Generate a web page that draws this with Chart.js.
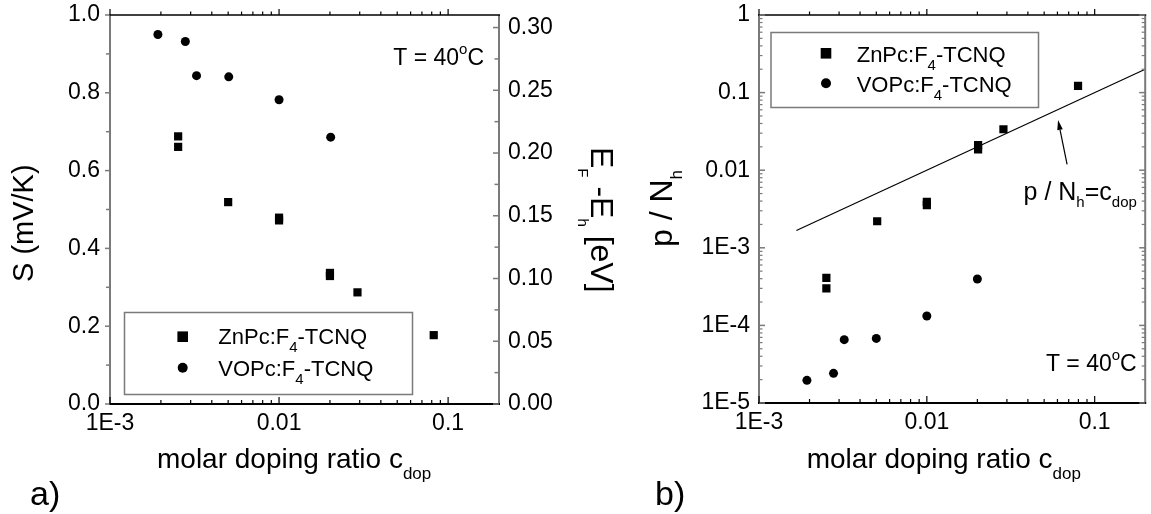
<!DOCTYPE html>
<html><head><meta charset="utf-8">
<script src="https://cdn.jsdelivr.net/npm/chart.js@4.4.1/dist/chart.umd.min.js"></script>
<style>
html,body{margin:0;padding:0;background:#fff;width:1151px;height:514px;overflow:hidden}
#a{position:absolute;left:0;top:0}
#b{position:absolute;left:620px;top:0}
</style></head><body>
<canvas id="a" width="640" height="514"></canvas>
<canvas id="b" width="531" height="514"></canvas>
<script>
// ---------- data: panel a ----------
const aZnX = [0.00253, 0.00253, 0.0050, 0.0100, 0.0100, 0.0200, 0.0200, 0.0291, 0.0822];
const aZnS = [0.688, 0.661, 0.519, 0.479, 0.472, 0.337, 0.329, 0.287, 0.177];
const aVoX = [0.00192, 0.00279, 0.00325, 0.00504, 0.0100, 0.0202];
const aVoS = [0.950, 0.932, 0.844, 0.841, 0.782, 0.686];
// ---------- data: panel b ----------
const bZnX = [0.00252, 0.00252, 0.00506, 0.0100, 0.0100, 0.0202, 0.0202, 0.0286, 0.0796];
const bZnP = [4.1e-4, 3.0e-4, 2.2e-3, 3.9e-3, 3.55e-3, 2.1e-2, 1.85e-2, 3.37e-2, 0.122];
const bVoX = [0.00193, 0.00278, 0.00322, 0.0050, 0.0100, 0.0200];
const bVoP = [1.96e-5, 2.41e-5, 6.55e-5, 6.8e-5, 1.32e-4, 3.96e-4];
const lineX = [0.00167, 0.2];
const lineY = [0.00167, 0.2];
// ---------- ticks ----------
const xTickValues = [0.001, 0.01, 0.1];
const xTickLabels = ['1E-3', '0.01', '0.1'];
const aYTickValues = [0, 0.2, 0.4, 0.6, 0.8, 1.0];
const aYTickLabels = ['0.0', '0.2', '0.4', '0.6', '0.8', '1.0'];
const aY2TickValues = [0, 0.05, 0.10, 0.15, 0.20, 0.25, 0.30];
const aY2TickLabels = ['0.00', '0.05', '0.10', '0.15', '0.20', '0.25', '0.30'];
const bYTickValues = [1e-5, 1e-4, 1e-3, 0.01, 0.1, 1];
const bYTickLabels = ['1E-5', '1E-4', '1E-3', '0.01', '0.1', '1'];
// ---------- text ----------
const seriesNames = [
  [{t:'ZnPc:F'},{t:'4',sub:true},{t:'-TCNQ'}],
  [{t:'VOPc:F'},{t:'4',sub:true},{t:'-TCNQ'}]
];
const tempLabel = [{t:'T = 40'},{t:'o',sup:true},{t:'C'}];
const xTitle = [{t:'molar doping ratio c'},{t:'dop',sub:true}];
const aYTitle = [{t:'S (mV/K)'}];
const aY2Title = [{t:'E'},{t:'F',sub:true},{t:' -E'},{t:'h',sub:true},{t:' [eV]'}];
const bYTitle = [{t:'p / N'},{t:'h',sub:true}];
const annText = [{t:'p / N'},{t:'h',sub:true},{t:'=c'},{t:'dop',sub:true}];
const annAnchor = {x:0.0377, y:0.00413};
const arrowTip = {x:0.0605, y:0.0444};
const arrowTail = {x:0.0685, y:0.0119};

const FF = '"Liberation Sans", Arial, Helvetica, sans-serif';
const GRAY = '#7a7a7a';
const OFFB = 620; // left of canvas b on the page
Chart.defaults.font.family = FF;
Chart.defaults.font.size = 23;
Chart.defaults.color = '#000';

function richWidth(ctx, segs, o){
  let w = 0;
  for (const s of segs){ ctx.font = ((s.sub||s.sup)?o.sub:o.size)+'px '+FF; w += ctx.measureText(s.t).width; }
  return w;
}
function drawRich(ctx, x, y, segs, o){
  const w = richWidth(ctx, segs, o);
  let cx = o.align==='right' ? x-w : (o.align==='center' ? x-w/2 : x);
  ctx.textBaseline='alphabetic'; ctx.textAlign='left'; ctx.fillStyle='#000';
  for (const s of segs){
    const sz = (s.sub||s.sup)?o.sub:o.size;
    ctx.font = sz+'px '+FF;
    const dy = s.sub ? (o.subDy||0) : (s.sup ? (o.supDy||0) : 0);
    ctx.fillText(s.t, cx, y+dy);
    cx += ctx.measureText(s.t).width;
  }
}
function drawRotated(ctx, x, y, ang, segs, o){
  ctx.save(); ctx.translate(x,y); ctx.rotate(ang); drawRich(ctx,0,0,segs,o); ctx.restore();
}
function seg(ctx,x1,y1,x2,y2,c,w){
  ctx.strokeStyle=c; ctx.lineWidth=w; ctx.beginPath(); ctx.moveTo(x1,y1); ctx.lineTo(x2,y2); ctx.stroke();
}
function hTicks(ctx, scale, vals, yPos, len, c, w){
  for (const v of vals){ const p = scale.getPixelForValue(v); seg(ctx,p,yPos,p,yPos+len,c,w); }
}
function vTicks(ctx, scale, vals, xPos, len, c, w){
  for (const v of vals){ const p = scale.getPixelForValue(v); seg(ctx,xPos,p,xPos+len,p,c,w); }
}
function logMinors(min,max){
  const out=[];
  for (let e=Math.floor(Math.log10(min)); e<=Math.ceil(Math.log10(max)); e++)
    for (let m=2;m<=9;m++){ const v=m*Math.pow(10,e); if (v>min*1.0001 && v<max*0.9999) out.push(v); }
  return out;
}
function linMinors(vals, max){
  const out=[]; const step=vals[1]-vals[0];
  for (const v of vals){ const m=v+step/2; if (m<max) out.push(m); }
  return out;
}
function marker(ctx, style, x, y, r){
  ctx.fillStyle='#000';
  if (style==='rect'){ const s=r*Math.SQRT1_2; ctx.fillRect(x-s,y-s,2*s,2*s); }
  else { ctx.beginPath(); ctx.arc(x,y,r,0,Math.PI*2); ctx.fill(); }
}
function drawLegend(ctx, box, mx, tx, rows){
  ctx.strokeStyle=GRAY; ctx.lineWidth=1.5;
  ctx.strokeRect(box.x, box.y, box.w, box.h);
  rows.forEach((r,i)=>{
    marker(ctx, r.style, mx, r.my, r.style==='rect'?7.5:5);
    drawRich(ctx, tx, r.ty, seriesNames[i], {size:22, sub:15, subDy:8});
  });
}
function noPad(s){ s.paddingTop=0; s.paddingBottom=0; s.paddingLeft=0; s.paddingRight=0; }

function scatterDs(xs, ys, style, r){
  return { data: xs.map((x,i)=>({x, y:ys[i]})), pointStyle: style, pointRadius: r,
    pointHoverRadius: r, backgroundColor:'#000', borderWidth:0, showLine:false };
}

// ---------- panel a ----------
const decorA = {
  id:'decorA',
  afterDraw(chart){
    const {ctx, chartArea:ca, scales} = chart;
    const x=scales.x, y=scales.y, y2=scales.y2;
    ctx.save();
    seg(ctx, ca.left, ca.top, ca.left, ca.bottom, GRAY, 2);
    seg(ctx, ca.right, ca.top, ca.right, ca.bottom, GRAY, 2);
    seg(ctx, ca.left-1, ca.bottom, ca.right+1, ca.bottom, '#000', 2);
    seg(ctx, ca.left-1, ca.top, ca.right+1, ca.top, '#000', 1.5);
    vTicks(ctx, y, aYTickValues, ca.left, -5, GRAY, 1.5);
    vTicks(ctx, y, linMinors(aYTickValues, 1.0), ca.left, -4, GRAY, 1.5);
    vTicks(ctx, y2, aY2TickValues, ca.right, -6, GRAY, 1.5);
    vTicks(ctx, y2, linMinors(aY2TickValues, 0.31), ca.right, -4.5, GRAY, 1.5);
    const xm = logMinors(0.001, 0.2);
    hTicks(ctx, x, xTickValues, ca.bottom, -7, '#000', 1.2);
    hTicks(ctx, x, xm, ca.bottom, -4, '#000', 1.2);
    hTicks(ctx, x, xTickValues, ca.top, -6, '#000', 1.2);
    hTicks(ctx, x, xm, ca.top, -3.5, '#000', 1.2);
    drawRich(ctx, 157, 468, xTitle, {size:28, sub:17, subDy:11});
    drawRotated(ctx, 33, 282, -Math.PI/2, aYTitle, {size:29, sub:18});
    drawRotated(ctx, 591, 147, Math.PI/2, aY2Title, {size:32, sub:15, subDy:13});
    drawRich(ctx, 484, 65, tempLabel, {size:23, sub:15, supDy:-11, align:'right'});
    drawRich(ctx, 30, 505, [{t:'a)'}], {size:34, sub:20});
    drawLegend(ctx, {x:124.5, y:312.5, w:288, h:82}, 182.7, 218.3,
      [{style:'rect', my:336.7, ty:344}, {style:'circle', my:367.7, ty:376}]);
    ctx.restore();
  }
};

new Chart(document.getElementById('a'), {
  type:'scatter',
  data:{ datasets:[ scatterDs(aZnX, aZnS, 'rect', 5.8), scatterDs(aVoX, aVoS, 'circle', 4.5) ] },
  options:{
    responsive:false, animation:false, devicePixelRatio:1,
    layout:{ padding:{ top:15, left:0, right:0, bottom:0 } },
    plugins:{ legend:{display:false}, tooltip:{enabled:false} },
    scales:{
      x:{ type:'logarithmic', min:0.001, max:0.2, position:'bottom',
        grid:{display:false, drawTicks:false}, border:{display:false},
        afterBuildTicks:s=>{ s.ticks = xTickValues.map(v=>({value:v})); },
        ticks:{ padding:6, autoSkip:false, maxRotation:0, minRotation:0, callback:(v,i)=>xTickLabels[i] },
        afterFit:s=>{ s.height = 110; noPad(s); } },
      y:{ type:'linear', min:0, max:1, position:'left',
        grid:{display:false, drawTicks:false}, border:{display:false},
        afterBuildTicks:s=>{ s.ticks = aYTickValues.map(v=>({value:v})); },
        ticks:{ padding:10, autoSkip:false, callback:(v,i)=>aYTickLabels[i] },
        afterFit:s=>{ s.width = 110; noPad(s); } },
      y2:{ type:'linear', min:0, max:0.31, position:'right',
        grid:{display:false, drawTicks:false}, border:{display:false},
        afterBuildTicks:s=>{ s.ticks = aY2TickValues.map(v=>({value:v})); },
        ticks:{ padding:9, autoSkip:false, callback:(v,i)=>aY2TickLabels[i] },
        afterFit:s=>{ s.width = 141; noPad(s); } }
    }
  },
  plugins:[decorA]
});

// ---------- panel b ----------
const decorB = {
  id:'decorB',
  afterDraw(chart){
    const {ctx, chartArea:ca, scales} = chart;
    const x=scales.x, y=scales.y;
    ctx.save();
    seg(ctx, ca.left, ca.top, ca.left, ca.bottom, GRAY, 2);
    seg(ctx, ca.right, ca.top, ca.right, ca.bottom, GRAY, 2);
    seg(ctx, ca.left-1, ca.bottom, ca.right+1, ca.bottom, '#000', 2);
    seg(ctx, ca.left-1, ca.top, ca.right+1, ca.top, '#000', 1.5);
    const ym = logMinors(1e-5, 1);
    vTicks(ctx, y, bYTickValues, ca.left, 6, GRAY, 1.5);
    vTicks(ctx, y, ym, ca.left, 3.5, GRAY, 1.2);
    vTicks(ctx, y, bYTickValues, ca.right, -6, GRAY, 1.5);
    vTicks(ctx, y, ym, ca.right, -3.5, GRAY, 1.2);
    const xm = logMinors(0.001, 0.2);
    hTicks(ctx, x, xTickValues, ca.bottom, -7, '#000', 1.2);
    hTicks(ctx, x, xm, ca.bottom, -4, '#000', 1.2);
    hTicks(ctx, x, xTickValues, ca.top, -6, '#000', 1.2);
    hTicks(ctx, x, xm, ca.top, -3.5, '#000', 1.2);
    drawRich(ctx, 806.7-OFFB, 468, xTitle, {size:28, sub:17, subDy:11});
    drawRotated(ctx, 671.7-OFFB, 247, -Math.PI/2, bYTitle, {size:32, sub:17, subDy:10});
    drawRich(ctx, 1136.7-OFFB, 371, tempLabel, {size:23, sub:15, supDy:-11, align:'right'});
    drawRich(ctx, 655-OFFB, 505, [{t:'b)'}], {size:34, sub:20});
    drawLegend(ctx, {x:771-OFFB, y:32.5, w:267.5, h:75}, 826-OFFB, 856.7-OFFB,
      [{style:'rect', my:53.3, ty:62}, {style:'circle', my:83.3, ty:91.5}]);
    drawRich(ctx, x.getPixelForValue(annAnchor.x), y.getPixelForValue(annAnchor.y), annText, {size:25, sub:15, subDy:7});
    const tx = x.getPixelForValue(arrowTip.x), ty = y.getPixelForValue(arrowTip.y);
    const sx = x.getPixelForValue(arrowTail.x), sy = y.getPixelForValue(arrowTail.y);
    const ang = Math.atan2(ty-sy, tx-sx);
    const hl = 10, hw = 2.8;
    const bx = tx - hl*Math.cos(ang), by = ty - hl*Math.sin(ang);
    seg(ctx, sx, sy, bx, by, '#000', 1.2);
    ctx.fillStyle='#000'; ctx.beginPath();
    ctx.moveTo(tx,ty);
    ctx.lineTo(bx + hw*Math.sin(ang), by - hw*Math.cos(ang));
    ctx.lineTo(bx - hw*Math.sin(ang), by + hw*Math.cos(ang));
    ctx.closePath(); ctx.fill();
    ctx.restore();
  }
};

new Chart(document.getElementById('b'), {
  type:'scatter',
  data:{ datasets:[
    scatterDs(bZnX, bZnP, 'rect', 5.8),
    scatterDs(bVoX, bVoP, 'circle', 4.5),
    { data: lineX.map((x,i)=>({x, y:lineY[i]})), showLine:true, pointRadius:0, borderColor:'#000', borderWidth:1.2, fill:false }
  ] },
  options:{
    responsive:false, animation:false, devicePixelRatio:1,
    layout:{ padding:{ top:15, left:0, right:4, bottom:0 } },
    plugins:{ legend:{display:false}, tooltip:{enabled:false} },
    scales:{
      x:{ type:'logarithmic', min:0.001, max:0.2, position:'bottom',
        grid:{display:false, drawTicks:false}, border:{display:false},
        afterBuildTicks:s=>{ s.ticks = xTickValues.map(v=>({value:v})); },
        ticks:{ padding:6, autoSkip:false, maxRotation:0, minRotation:0, callback:(v,i)=>xTickLabels[i] },
        afterFit:s=>{ s.height = 111; noPad(s); } },
      y:{ type:'logarithmic', min:1e-5, max:1, position:'left',
        grid:{display:false, drawTicks:false}, border:{display:false},
        afterBuildTicks:s=>{ s.ticks = bYTickValues.map(v=>({value:v})); },
        ticks:{ padding:9, autoSkip:false, callback:(v,i)=>bYTickLabels[i] },
        afterFit:s=>{ s.width = 759-OFFB; noPad(s); } }
    }
  },
  plugins:[decorB]
});
</script>
</body></html>
